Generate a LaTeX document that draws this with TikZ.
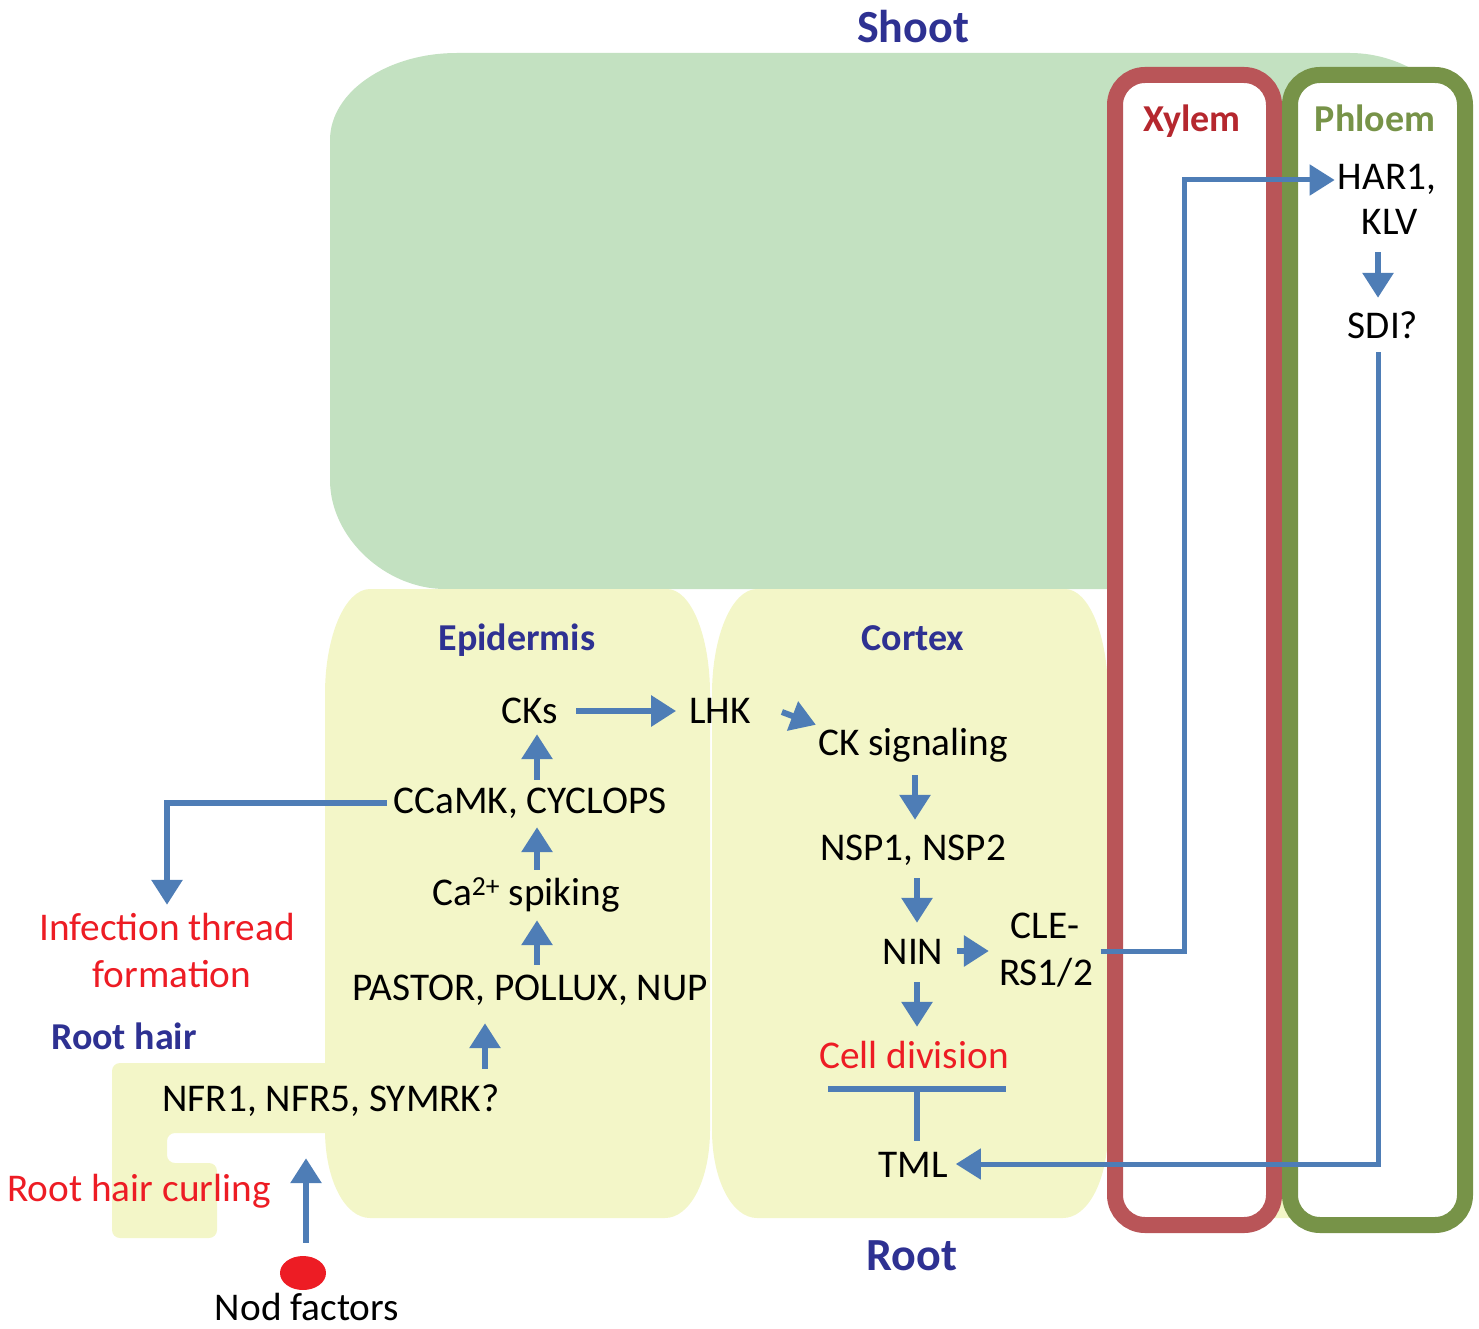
\documentclass[tikz,border=0pt]{standalone}
\usepackage{fontspec}
\setmainfont{Carlito}
\usetikzlibrary{arrows.meta,calc,shapes.geometric}
\definecolor{greenfill}{RGB}{195,225,193}
\definecolor{yellowfill}{RGB}{243,246,200}
\definecolor{xylemc}{RGB}{185,85,88}
\definecolor{phloemc}{RGB}{119,147,72}
\definecolor{bluec}{RGB}{78,125,182}
\definecolor{navyc}{RGB}{46,49,146}
\definecolor{redc}{RGB}{237,28,36}
\definecolor{xylemtxt}{RGB}{181,39,46}
\begin{document}
\begin{tikzpicture}[x=1pt,y=-1pt,
  txt/.style={anchor=base, inner sep=0pt, text height=25pt, text depth=8pt, font=\fontsize{39.3}{44}\selectfont},
  redtxt/.style={txt, text=redc},
  hdr/.style={txt, font=\fontsize{38}{44}\selectfont\bfseries, text=navyc},
  bighdr/.style={txt, font=\fontsize{46}{52}\selectfont\bfseries, text=navyc},
  arr/.style={draw=bluec, line width=6pt, -{Triangle[length=25pt,width=30pt]}},
  arrthin/.style={arr, line width=5pt},
  inh/.style={draw=bluec, line width=6pt, -{Bar[width=178pt,line width=6pt]}},
  vessel/.style={line width=16pt, fill=white, rounded corners=30pt}]
\useasboundingbox (0,0) rectangle (1479,1329);
% shoot
\fill[greenfill] (330,140) .. controls (330,92) and (387,53) .. (457,53)
  -- (1350,53) .. controls (1405,53) and (1460,90) .. (1460,140)
  -- (1460,589) -- (445,589) .. controls (386,589) and (330,538) .. (330,480) -- cycle;
% hidden yellow behind vessels
\fill[yellowfill, rounded corners=20pt] (1200,600) rectangle (1380,1218);
% epidermis
\fill[yellowfill] (325,694) .. controls (325,636) and (345,589) .. (370,589)
  -- (667,589) .. controls (691,589) and (710,636) .. (710,694)
  -- (710,1130) .. controls (710,1180) and (690,1218) .. (665,1218)
  -- (370,1218) .. controls (345,1218) and (325,1180) .. (325,1130) -- cycle;
% cortex
\fill[yellowfill] (712,694) .. controls (712,636) and (732,589) .. (757,589)
  -- (1065,589) .. controls (1089,589) and (1108,636) .. (1108,694)
  -- (1108,1130) .. controls (1108,1180) and (1088,1218) .. (1063,1218)
  -- (757,1218) .. controls (732,1218) and (712,1180) .. (712,1130) -- cycle;
% root hair
\fill[yellowfill, rounded corners=8pt] (112,1063) -- (345,1063) -- (345,1133) -- (167,1133)
  -- (167,1163) -- (217,1163) -- (217,1238) -- (112,1238) -- cycle;
% vessels
\draw[vessel, draw=xylemc] (1115,75) rectangle (1274,1225);
\draw[vessel, draw=phloemc] (1290,75) rectangle (1465,1225);
% texts
\node[bighdr] (shoot) at (913,43) {Shoot};
\node[bighdr] (root) at (912,1270) {Root};
\node[txt, font=\fontsize{38}{44}\selectfont\bfseries, text=xylemtxt] (xylem) at (1192,132) {Xylem};
\node[txt, font=\fontsize{38}{44}\selectfont\bfseries, text=phloemc] (phloem) at (1375,132) {Phloem};
\node[txt] (har) at (1387,190) {HAR1,};
\node[txt] (klv) at (1390,235) {KLV};
\node[txt] (sdi) at (1383,338) {SDI?};
\node[hdr] (epi) at (517,650) {Epidermis};
\node[hdr] (cortex) at (913,650) {Cortex};
\node[txt] (cks) at (530,723) {CKs};
\node[txt] (lhk) at (720,723) {LHK};
\node[txt] (cksig) at (913,755) {CK signaling};
\node[txt] (ccamk) at (530,813) {CCaMK, CYCLOPS};
\node[txt] (nsp) at (913,860) {NSP1, NSP2};
\node[txt] (ca) at (526,905) {Ca\textsuperscript{2+} spiking};
\node[txt] (nin) at (913,964) {NIN};
\node[txt] (cle1) at (1045,938) {CLE-};
\node[txt] (cle2) at (1046,985) {RS1/2};
\node[txt] (pastor) at (530,1000) {PASTOR, POLLUX, NUP};
\node[redtxt] (inf1) at (167,940) {Infection thread};
\node[redtxt] (inf2) at (172,987) {formation};
\node[hdr] (roothair) at (124,1049) {Root hair};
\node[txt] (nfr) at (331,1111) {NFR1, NFR5, SYMRK?};
\node[redtxt] (celldiv) at (914,1068) {Cell division};
\node[txt] (tml) at (913,1177) {TML};
\node[redtxt] (curling) at (139,1201) {Root hair curling};
\node[txt] (nod) at (307,1320) {Nod factors};
\node[ellipse, fill=redc, minimum width=46pt, minimum height=34pt, inner sep=0pt] (ball) at (303,1273) {};
% connectors
\draw[arr, shorten <=18pt, shorten >=13pt] ([yshift=3.5pt]cks.east) -- ([yshift=3.5pt]lhk.west);
\draw[arr, shorten <=0pt, shorten >=0pt] ([xshift=31pt,yshift=2.5pt]lhk.east) -- ([xshift=-2pt,yshift=5pt]cksig.north west);
\draw[arr, shorten <=8pt, shorten >=3pt] ([xshift=7pt]ccamk.north) -- ([xshift=7pt]ccamk.north |- cks.south);
\draw[arr, shorten <=10pt, shorten >=6pt] ([xshift=11pt]ca.north) -- ([xshift=11pt]ca.north |- ccamk.south);
\draw[arr, shorten <=10pt, shorten >=7pt] ([xshift=7pt]pastor.north) -- ([xshift=7pt]pastor.north |- ca.south);
\draw[arr, shorten <=17pt, shorten >=15pt] ([xshift=154pt]nfr.north) -- ([xshift=154pt]nfr.north |- pastor.south);
\draw[arr, shorten <=13pt, shorten >=39pt] ([xshift=3pt]ball.north) -- ([xshift=3pt]ball.north |- nfr.south);
\draw[arr, shorten <=6pt, shorten >=10pt] ([yshift=1.5pt]ccamk.west) -| (inf1.north);
\draw[arr, shorten <=12pt, shorten >=15pt] ([xshift=2pt]cksig.south) -- ([xshift=2pt]cksig.south |- nsp.north);
\draw[arr, shorten <=10pt, shorten >=16pt] ([xshift=4pt]nsp.south) -- ([xshift=4pt]nsp.south |- nin.north);
\draw[arr, shorten <=13pt, shorten >=10pt] ([yshift=4.5pt]nin.east) -- ([yshift=4.5pt]nin.east -| cle2.west);
\draw[arr, shorten <=10pt, shorten >=16pt] ([xshift=4pt]nin.south) -- ([xshift=4pt]nin.south |- celldiv.north);
\draw[inh, shorten <=11pt, shorten >=10pt] ([xshift=4pt]tml.north) -- ([xshift=4pt]tml.north |- celldiv.south);
\draw[arrthin, shorten <=6pt, shorten >=8pt] ([xshift=-5pt]sdi.south) |- ([yshift=4.5pt]tml.east);
\draw[arr, shorten <=9pt, shorten >=15pt] ([xshift=-12pt]klv.south) -- ([xshift=-12pt]klv.south |- sdi.north);
\draw[arrthin, shorten <=14.5pt, shorten >=3pt] ($($(cle1.east)!0.5!(cle2.east)$)+(0,-2)$) -- ++(98.5,0) |- ([yshift=1.5pt]har.west);
\end{tikzpicture}
\end{document}
